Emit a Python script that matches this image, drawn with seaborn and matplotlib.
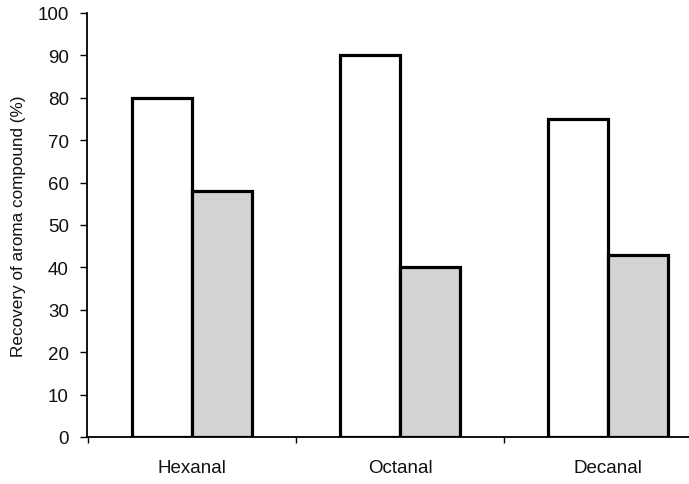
import matplotlib
matplotlib.use("Agg")
import matplotlib.pyplot as plt
import seaborn as sns
import pandas as pd

compounds = ["Hexanal", "Octanal", "Decanal"]
series_a = [80, 90, 75]
series_b = [58, 40, 43]
series_names = ["A", "B"]
yticks = [0, 10, 20, 30, 40, 50, 60, 70, 80, 90, 100]

df = pd.DataFrame({
    "compound": compounds * 2,
    "recovery": series_a + series_b,
    "series": [series_names[0]] * 3 + [series_names[1]] * 3,
})

sns.set_theme(style="white")
plt.rcParams["font.family"] = ["Liberation Sans", "DejaVu Sans"]

W, H = 689, 485
fig = plt.figure(figsize=(W / 100, H / 100), dpi=100)
left, right, top, bottom = 87, 689, 14, 438
ax = fig.add_axes([left / W, (H - bottom) / H, (right - left) / W, (bottom - top) / H])

sns.barplot(data=df, x="compound", y="recovery", hue="series",
            palette=["white", "#d3d3d3"], width=0.58, gap=0,
            edgecolor="black", linewidth=2.3, saturation=1, legend=False,
            errorbar=None, ax=ax)

# one category slot in pixels, and offset of the first slot from the spine
span = 208.0
x0 = -0.5 - 1.0 / span
ax.set_yticks(yticks)
ax.set_yticklabels([str(v) for v in yticks], fontsize=13.5)
ax.set_xticks(range(len(compounds)))
ax.set_xticklabels(compounds, fontsize=13.5)
ax.set_xticks([-0.5, 0.5, 1.5], minor=True)
ax.set_xlim(x0, x0 + (right - left) / span)
ax.set_ylim(0, 100)
ax.tick_params(axis="x", which="major", length=0, pad=16, colors="black")
ax.tick_params(axis="x", which="minor", length=4, width=1, direction="out",
               bottom=True, colors="black")
ax.tick_params(axis="y", which="major", length=5, width=1, direction="out",
               left=True, pad=8, colors="black")
for lbl in ax.get_yticklabels() + ax.get_xticklabels():
    lbl.set_color("#111111")

ax.set_xlabel("")
ax.set_ylabel("Recovery of aroma compound (%)", fontsize=12.3, color="#111111", labelpad=8)

for s in ["top", "right"]:
    ax.spines[s].set_visible(False)
for s in ["left", "bottom"]:
    ax.spines[s].set_color("black")
    ax.spines[s].set_linewidth(1.3)

fig.savefig("out.png", dpi=100, facecolor="white")
